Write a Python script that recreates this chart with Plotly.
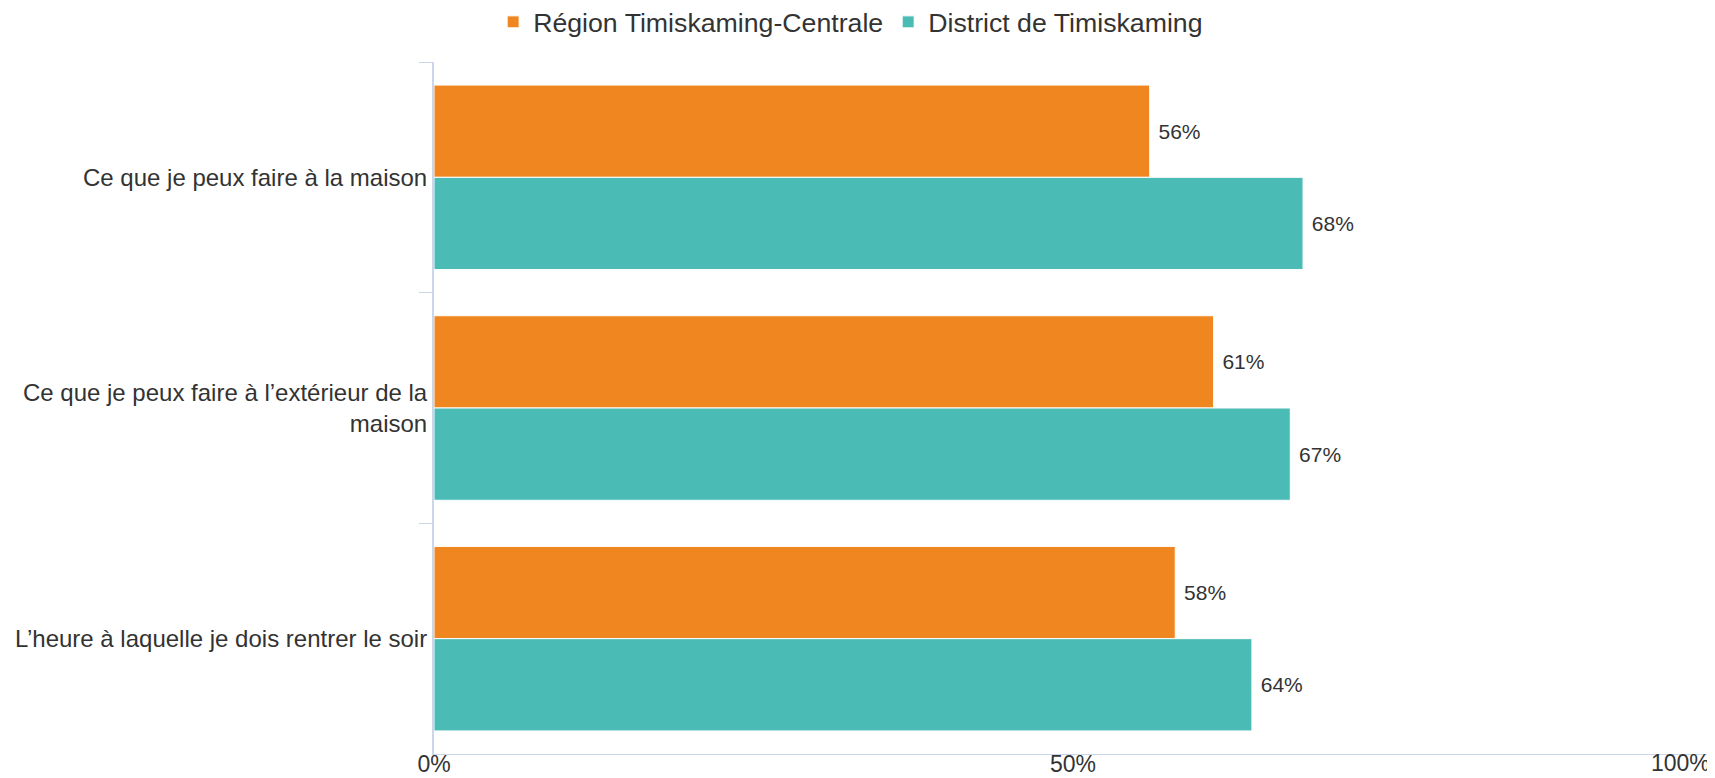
import plotly.graph_objects as go

categories = [
    "Ce que je peux faire à la maison",
    "Ce que je peux faire à l’extérieur de la<br>maison",
    "L’heure à laquelle je dois rentrer le soir",
]
series_names = ["Région Timiskaming-Centrale", "District de Timiskaming"]
region_values = [56, 61, 58]
district_values = [68, 67, 64]
series_colors = ["#F0861F", "#4BBBB5"]
x_tick_vals = [0, 50, 100]
x_tick_text = ["0%", "50%", "100%"]

FONT = "Liberation Sans, Arial, Helvetica, sans-serif"
TEXT = "#333333"
AXIS = "#ccd6eb"

# page body has an 8px default margin; size the figure to fill the window
W, H = 1707, 770

fig = go.Figure()
for name, vals, col in zip(series_names, [region_values, district_values], series_colors):
    fig.add_trace(go.Bar(
        y=categories,
        x=vals,
        name=name,
        orientation="h",
        marker=dict(color=col, line=dict(color="#ffffff", width=1)),
        text=[f"\u00a0{v}%" for v in vals],
        textposition="outside",
        textfont=dict(family=FONT, size=21, color=TEXT),
        cliponaxis=False,
        hovertemplate="%{y}: %{x}%<extra>" + name + "</extra>",
    ))

fig.update_layout(
    width=W,
    height=H,
    barmode="group",
    bargap=0.2,
    bargroupgap=0,
    paper_bgcolor="#ffffff",
    plot_bgcolor="#ffffff",
    font=dict(family=FONT, color=TEXT),
    margin=dict(l=426, r=3, t=54, b=24, autoexpand=False),
    legend=dict(
        orientation="h",
        x=0.326,
        xanchor="center",
        y=1.0578,
        yanchor="middle",
        font=dict(family=FONT, size=26.7, color=TEXT),
        itemclick=False,
        tracegroupgap=0,
    ),
    xaxis=dict(
        range=[0, 100],
        tickvals=x_tick_vals[:2],
        ticktext=x_tick_text[:2],
        showgrid=False,
        zeroline=False,
        showline=True,
        linecolor=AXIS,
        linewidth=1,
        ticks="",
        ticklabelstandoff=-11,
        tickfont=dict(family=FONT, size=23, color=TEXT),
        automargin=False,
    ),
    yaxis=dict(
        autorange="reversed",
        showgrid=False,
        zeroline=False,
        showline=True,
        linecolor=AXIS,
        linewidth=2,
        ticks="outside",
        tickson="boundaries",
        ticklen=13,
        tickwidth=1,
        tickcolor=AXIS,
        tickfont=dict(family=FONT, size=24, color=TEXT),
        automargin=False,
    ),
)

# last x tick label kept inside the figure (right-aligned at its tick)
fig.add_annotation(
    x=x_tick_vals[2], xref="x",
    y=0, yref="paper", yanchor="top", yshift=6,
    xanchor="right",
    text=x_tick_text[2],
    showarrow=False,
    font=dict(family=FONT, size=23, color=TEXT),
)

fig.write_html("out.html")
